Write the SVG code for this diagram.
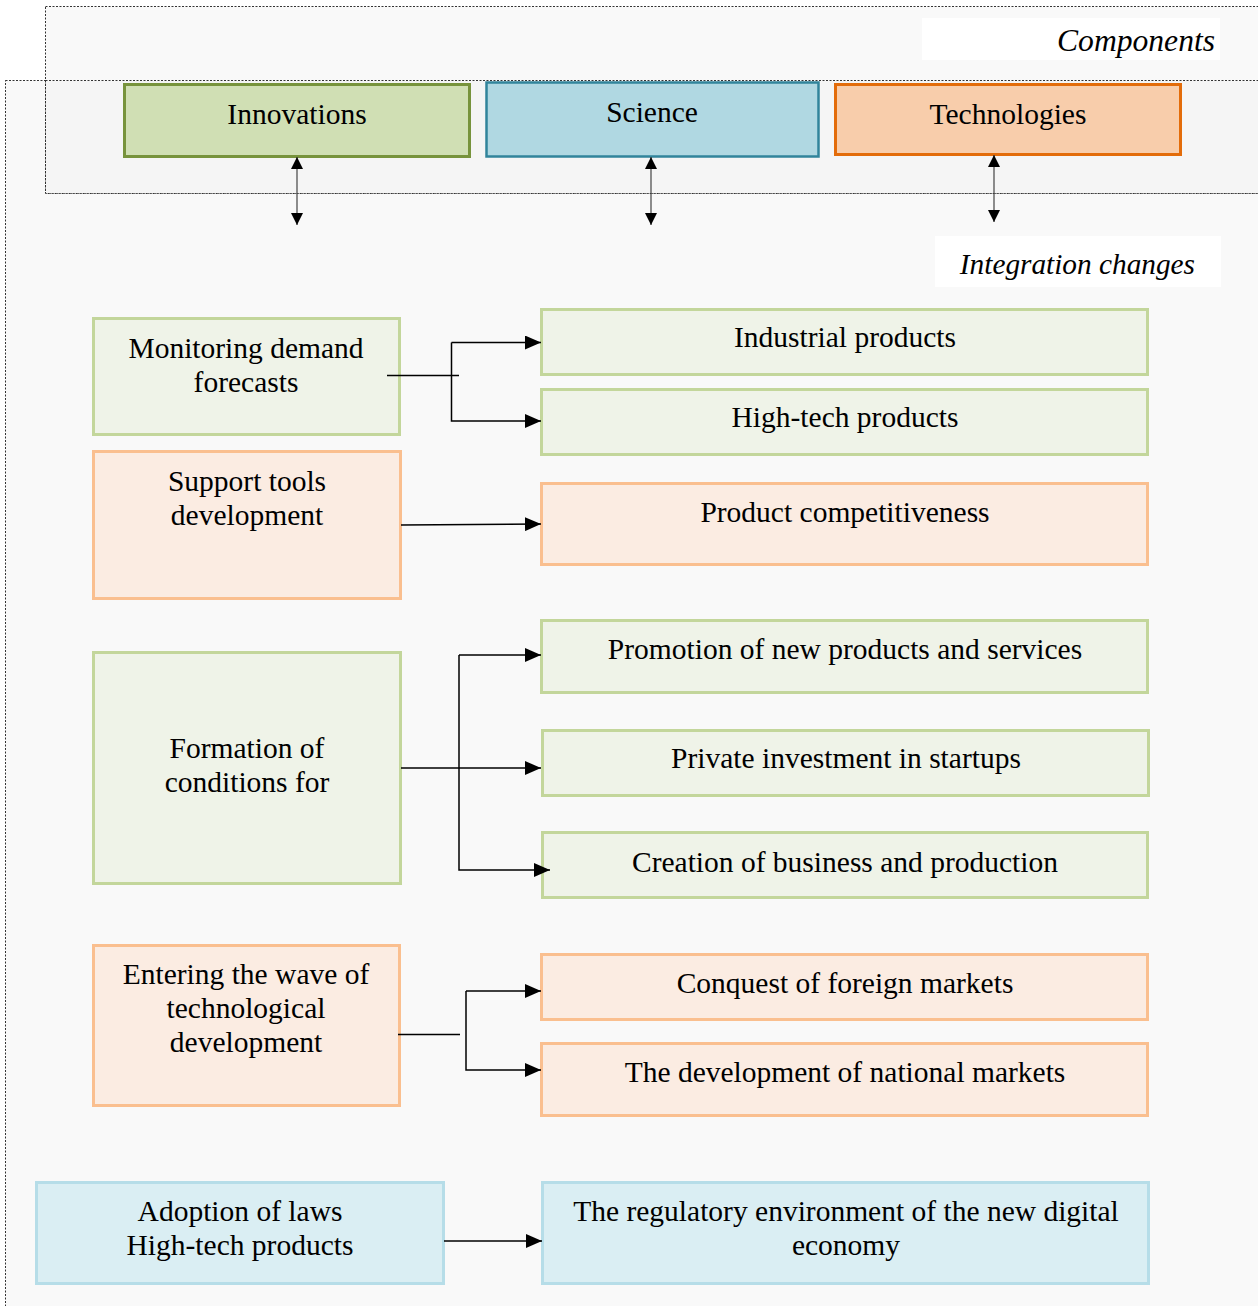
<svg xmlns="http://www.w3.org/2000/svg" width="1258" height="1306" viewBox="0 0 1258 1306">
<defs>
<style>
text{font-family:'Liberation Serif','Times New Roman',serif;font-size:29.5px;fill:#000;text-anchor:middle}
.it{font-style:italic;text-anchor:end}
.g{fill:#eff3e8;stroke:#c3d69b;stroke-width:3}
.o{fill:#fbece2;stroke:#fabf8f;stroke-width:3}
.b{fill:#daeef3;stroke:#b6dde8;stroke-width:3}
.c{fill:none;stroke:#000;stroke-width:1.5}
.d{fill:none;stroke:#444;stroke-width:1.2}
.frame{fill:#f9f9f9;stroke:#333;stroke-width:1;stroke-dasharray:2,1.5}
</style>
<marker id="ah" viewBox="0 0 16 14" refX="16" refY="7" markerWidth="16" markerHeight="14" markerUnits="userSpaceOnUse" orient="auto">
<path d="M0,0L16,7L0,14Z" fill="#000"/>
</marker>
<marker id="sh" viewBox="0 0 12 12" refX="12" refY="6" markerWidth="12" markerHeight="12" markerUnits="userSpaceOnUse" orient="auto-start-reverse">
<path d="M0,0L12,6L0,12Z" fill="#000"/>
</marker>
</defs>
<rect x="0" y="0" width="1258" height="1306" fill="#fff"/>
<g id="frames">
<rect class="frame" x="5.5" y="80.5" width="1270" height="1240"/>
<rect class="frame" x="45.5" y="6.5" width="1230" height="187"/>
<rect x="46" y="81" width="1212" height="112" fill="#f5f5f5"/>
<line x1="45.5" y1="80.5" x2="1258" y2="80.5" stroke="#333" stroke-width="1" stroke-dasharray="2,1.5"/>
<line x1="45.5" y1="80" x2="45.5" y2="193" stroke="#333" stroke-width="1" stroke-dasharray="2,1.5"/>
<line x1="45.5" y1="193.5" x2="1258" y2="193.5" stroke="#666" stroke-width="1" stroke-dasharray="2,1.5"/>
</g>
<g id="label-components">
<rect x="922" y="18" width="298" height="42" fill="#fff"/>
<text class="it" x="1215" y="51" style="font-size:31.6px">Components</text>
</g>
<g id="label-integration">
<rect x="935" y="236" width="286" height="51" fill="#fff"/>
<text class="it" x="1195" y="274" style="font-size:29.3px">Integration changes</text>
</g>
<g id="innovations">
<rect x="124.5" y="84.5" width="345" height="72" fill="#d0dfb4" stroke="#77933c" stroke-width="3"/>
<text x="297" y="124">Innovations</text>
</g>
<g id="science">
<rect x="486.5" y="82.5" width="332" height="74" fill="#b0d8e2" stroke="#31849b" stroke-width="2.5"/>
<text x="652" y="122">Science</text>
</g>
<g id="technologies">
<rect x="835.5" y="84.5" width="345" height="70" fill="#f8cdab" stroke="#e36c0a" stroke-width="3"/>
<text x="1008" y="124">Technologies</text>
</g>
<g id="monitoring">
<rect class="g" x="93.5" y="318.5" width="306" height="116"/>
<text x="246" y="358">Monitoring demand</text>
<text x="246" y="392">forecasts</text>
</g>
<g id="support">
<rect class="o" x="93.5" y="451.5" width="307" height="147"/>
<text x="247" y="491">Support tools</text>
<text x="247" y="525">development</text>
</g>
<g id="formation">
<rect class="g" x="93.5" y="652.5" width="307" height="231"/>
<text x="247" y="758">Formation of</text>
<text x="247" y="792">conditions for</text>
</g>
<g id="entering">
<rect class="o" x="93.5" y="945.5" width="306" height="160"/>
<text x="246" y="984">Entering the wave of</text>
<text x="246" y="1018">technological</text>
<text x="246" y="1052">development</text>
</g>
<g id="adoption">
<rect class="b" x="36.5" y="1182.5" width="407" height="101"/>
<text x="240" y="1221">Adoption of laws</text>
<text x="240" y="1255">High-tech products</text>
</g>
<g id="industrial">
<rect class="g" x="541.5" y="309.5" width="606" height="65"/>
<text x="845" y="347">Industrial products</text>
</g>
<g id="hightech">
<rect class="g" x="541.5" y="389.5" width="606" height="65"/>
<text x="845" y="427">High-tech products</text>
</g>
<g id="competitiveness">
<rect class="o" x="541.5" y="483.5" width="606" height="81"/>
<text x="845" y="522">Product competitiveness</text>
</g>
<g id="promotion">
<rect class="g" x="541.5" y="620.5" width="606" height="72"/>
<text x="845" y="659">Promotion of new products and services</text>
</g>
<g id="private">
<rect class="g" x="542.5" y="730.5" width="606" height="65"/>
<text x="846" y="768">Private investment in startups</text>
</g>
<g id="creation">
<rect class="g" x="542.5" y="832.5" width="605" height="65"/>
<text x="845" y="872">Creation of business and production</text>
</g>
<g id="conquest">
<rect class="o" x="541.5" y="954.5" width="606" height="65"/>
<text x="845" y="993">Conquest of foreign markets</text>
</g>
<g id="national">
<rect class="o" x="541.5" y="1043.5" width="606" height="72"/>
<text x="845" y="1082">The development of national markets</text>
</g>
<g id="regulatory">
<rect class="b" x="542.5" y="1182.5" width="606" height="101"/>
<text x="846" y="1221">The regulatory environment of the new digital</text>
<text x="846" y="1255">economy</text>
</g>
<g id="connectors">
<line class="d" x1="297" y1="157" x2="297" y2="225" marker-start="url(#sh)" marker-end="url(#sh)"/>
<line class="d" x1="651" y1="157" x2="651" y2="225" marker-start="url(#sh)" marker-end="url(#sh)"/>
<line class="d" x1="994" y1="155" x2="994" y2="222" marker-start="url(#sh)" marker-end="url(#sh)"/>
<line class="c" x1="387" y1="375.5" x2="459" y2="375.5"/>
<polyline class="c" points="451.5,342.5 451.5,421 541,421" marker-end="url(#ah)"/>
<line class="c" x1="451.5" y1="342.5" x2="541" y2="342.5" marker-end="url(#ah)"/>
<line class="c" x1="401" y1="525" x2="541" y2="524" marker-end="url(#ah)"/>
<line class="c" x1="401" y1="768" x2="541" y2="768" marker-end="url(#ah)"/>
<polyline class="c" points="459,655 459,870 550,870" marker-end="url(#ah)"/>
<line class="c" x1="459" y1="655" x2="541" y2="655" marker-end="url(#ah)"/>
<line class="c" x1="398" y1="1034.5" x2="460" y2="1034.5"/>
<polyline class="c" points="466,991 466,1070 541,1070" marker-end="url(#ah)"/>
<line class="c" x1="466" y1="991" x2="541" y2="991" marker-end="url(#ah)"/>
<line class="c" x1="444" y1="1241" x2="542" y2="1241" marker-end="url(#ah)"/>
</g>
</svg>
